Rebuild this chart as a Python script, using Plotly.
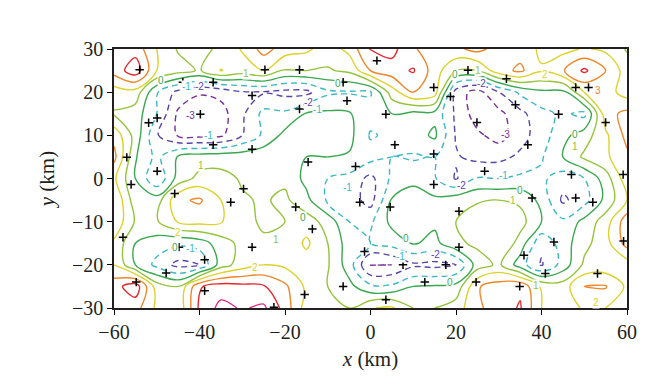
import plotly.graph_objects as go

# grid (km)
x_km = [-60, -55, -50, -45, -40, -35, -30, -25, -20, -15, -10, -5, 0, 5, 10, 15, 20, 25, 30, 35, 40, 45, 50, 55, 60]
y_km = [-30, -25, -20, -15, -10, -5, 0, 5, 10, 15, 20, 25, 30]

# field values, one list per row (x = -60 ... 60)
z_y30 = [3.0, 3.6, 2.0, 0.9, 0.7, 1.2, 2.1, 3.4, 2.5, 2.2, 1.5, 2.3, 4.1, 4.3, 3.2, 2.1, 2.8, 3.3, 2.6, 2.6, 1.8, 1.7, 2.1, 1.8, 0.9]
z_y25 = [3.4, 4.6, 2.0, 1.4, 0.9, 2.05, 1.5, 2.0, 0.9, 1.0, 0.9, 1.2, 3.0, 3.6, 4.1, 2.5, 1.0, 1.0, 2.6, 3.2, 2.1, 2.9, 4.2, 3.0, 1.5]
z_y20 = [1.5, 1.6, -0.9, -2.3, -2.9, -2.7, -2.1, -2.1, -2.3, -2.3, -1.2, -1.1, -1.1, 1.5, 3.0, 2.5, -2.5, -3.4, -2.0, -0.8, -0.2, -0.3, 2.0, 2.5, 1.5]
z_y15 = [0.9, 0.5, -1.0, -3.2, -3.6, -3.4, -2.2, -0.7, -0.8, 0.1, 0.2, 0.1, -0.6, 0.0, -0.3, -0.3, -2.2, -3.5, -3.3, -2.3, -1.3, -0.8, -1.3, 2.6, 3.3]
z_y10 = [2.7, 0.6, -1.9, -3.1, -3.3, -3.2, -2.0, -0.8, 0.3, 0.5, 0.5, 0.3, -1.1, -0.8, -0.5, 0.2, -2.1, -2.8, -3.4, -2.4, -1.5, -0.3, 0.5, 1.8, 3.3]
z_y5 = [3.3, 0.1, -1.3, 0.1, 0.5, 0.6, 0.6, 0.7, 0.4, 0.0, 0.0, -0.1, -0.6, -1.0, -1.1, -1.0, -1.9, -2.3, -2.3, -1.8, -1.1, 0.0, 1.2, 1.8, 2.8]
z_y0 = [2.2, 0.0, -1.9, 0.4, 1.3, 1.3, 0.9, 0.8, 0.8, -0.3, -1.0, -1.3, -2.3, -0.8, -0.5, -0.9, -2.1, -0.9, -1.0, -0.8, -0.8, -1.5, -1.0, 0.5, 2.6]
z_ym5 = [3.0, 0.4, 0.5, 2.8, 3.15, 2.0, 1.1, 0.9, 1.2, 0.3, -1.2, -1.5, -2.4, 0.1, 0.9, 0.2, 0.6, 0.9, 1.0, 0.8, -0.3, -2.2, -1.4, 0.3, 2.0]
z_ym10 = [2.8, 0.9, 0.9, 2.1, 2.3, 2.1, 1.2, 0.9, 1.0, 1.5, 0.6, -1.0, -1.2, 0.3, 0.7, 0.2, 1.0, 1.5, 1.9, 1.4, 0.0, -0.8, 0.3, 1.5, 3.6]
z_ym15 = [1.8, 0.0, -0.5, -0.8, -0.5, 0.5, 1.3, 1.1, 1.2, 2.2, 1.0, -0.5, -1.0, -0.6, 0.1, -0.3, 0.8, 1.2, 2.0, 0.6, -1.8, -0.5, 0.7, 1.6, 3.4]
z_ym20 = [2.0, 0.0, -1.3, -2.3, -2.0, 0.5, 1.5, 2.0, 1.8, 1.5, 1.1, -0.5, -3.1, -3.0, -2.2, -2.3, -2.0, 0.5, 1.2, -0.5, -2.1, -0.6, 1.2, 1.3, 1.5]
z_ym25 = [3.6, 4.6, 1.5, 1.0, 3.9, 4.5, 4.3, 4.1, 3.2, 1.8, 1.0, 0.3, -0.8, -0.8, 0.0, 0.1, 0.3, 2.9, 3.5, 3.8, 1.8, 1.5, 3.0, 3.1, 1.8]
z_ym30 = [3.3, 3.4, 1.8, 1.2, 4.2, 5.3, 4.9, 5.2, 3.6, 1.5, 1.2, 1.0, 1.95, 2.15, 1.0, 1.0, 1.5, 2.8, 3.5, 4.1, 2.0, 1.6, 2.1, 2.0, 1.0]

z_rows = [z_ym30, z_ym25, z_ym20, z_ym15, z_ym10, z_ym5, z_y0,
          z_y5, z_y10, z_y15, z_y20, z_y25, z_y30]

# station positions (km)
station_x = [-54.0, -43.9, -36.8, -27.7, -39.8, -49.9, -51.9, -36.8, -27.7, -57.0, -49.9, -24.7,
             -16.6, -6.4, -5.5, -16.6, 1.5, 14.8, 3.6, 5.7, 14.8, -14.6, -3.5,
             22.8, 31.8, 48.0, 51.0, 18.7, 33.9, 44.0, 24.9, 55.0, 36.8, 47.0, 59.1, 26.7,
             -56.0, -45.8, -32.7, -29.7, -57.9, -44.8, -38.8, -47.8, -54.8, -38.8, -27.7, -22.6,
             -17.5, -13.6, -2.5, 4.6, 14.8, -1.4, 7.6, 17.6, 12.7, -6.4, 3.6, -15.4,
             37.8, 48.0, 52.0, 20.7, 20.7, 42.9, 35.9, 40.9, 24.7, 34.9, 53.1, 59.2]
station_y = [25.2, 22.3, 22.3, 19.2, 14.9, 14.0, 12.9, 7.8, 6.8, 4.9, 1.7, 25.2,
             25.2, 22.3, 18.0, 16.1, 27.3, 21.1, 14.9, 7.8, 5.7, 3.8, 2.8,
             25.1, 23.1, 21.1, 21.1, 19.0, 17.1, 14.9, 13.0, 13.0, 7.8, 0.9, 0.9, 1.7,
             -1.4, -3.5, -5.5, -2.4, -13.6, -15.9, -18.8, -21.9, -24.0, -26.0, -15.9, -29.8,
             -6.6, -11.7, -5.5, -6.6, -1.4, -16.9, -20.0, -20.0, -24.0, -25.0, -28.1, -26.9,
             -4.5, -4.5, -5.5, -7.6, -15.9, -14.7, -17.8, -22.0, -24.0, -25.0, -22.0, -14.5]

# contour labels
label_x = [-48.9, -43.0, -39.9, -42.2, -29.1, -14.6, -12.3, -7.6, -38.0, -39.6, -45.0, -45.7, -42.0,
           -22.1, -27.0, -15.8, 8.3, 7.1, 15.1, 18.6, 38.7, 52.8, 35.0, 33.3, 31.0, 21.2,
           47.8, 47.8, 53.2, 40.8, 25.9, 25.2, 19.8, 31.5, -5.3]
label_y = [22.8, 21.2, 21.2, 14.5, 24.4, 17.5, 15.9, 22.1, 10.0, 3.1, -12.6, -15.9, -16.1,
           -14.2, -20.7, -9.1, -13.8, -18.0, -17.7, -24.2, -24.7, -28.8, -2.7, -5.2, 0.6, -1.7,
           10.1, 7.5, 20.3, 24.0, 22.1, 25.1, 24.0, 10.1, -2.1]
label_level = [0, -1, -2, -3, 1, -2, -1, 0, -1, 1, 2, 0, -1,
               1, 2, 0, 0, -1, -2, 0, 1, 2, 0, 1, -1, -2,
               0, 1, 3, 2, -2, 1, 0, -3, -1]

neg_levels = [-3, -2, -1]
neg_colors = ["#7a2f97", "#5a43a8", "#3bb8c2"]
pos_levels = [0, 1, 2, 3, 4, 5]
pos_colors = ["#3aa850", "#94c43c", "#dcd22a", "#f0862a", "#e6282e", "#e5288a"]


def scale_for(levels, colors):
    lo, hi = levels[0], levels[-1]
    return [[(lv - lo) / (hi - lo), c] for lv, c in zip(levels, colors)]


fig = go.Figure()
fig.add_trace(go.Contour(x=x_km, y=y_km, z=z_rows,
                         colorscale=scale_for(neg_levels, neg_colors),
                         zmin=neg_levels[0], zmax=neg_levels[-1], zauto=False,
                         showscale=False, autocontour=False, hoverinfo="skip",
                         contours=dict(start=neg_levels[0], end=neg_levels[-1], size=1,
                                       coloring="lines", showlabels=False),
                         line=dict(width=1.4, dash="6px,4px", smoothing=1.0)))
fig.add_trace(go.Contour(x=x_km, y=y_km, z=z_rows,
                         colorscale=scale_for(pos_levels, pos_colors),
                         zmin=pos_levels[0], zmax=pos_levels[-1], zauto=False,
                         showscale=False, autocontour=False, hoverinfo="skip",
                         contours=dict(start=pos_levels[0], end=pos_levels[-1], size=1,
                                       coloring="lines", showlabels=False),
                         line=dict(width=1.4, smoothing=1.0)))

fig.add_trace(go.Scatter(x=station_x, y=station_y, mode="markers",
                         marker=dict(symbol="cross-thin", size=6, line=dict(width=1.5, color="black")),
                         hoverinfo="skip", showlegend=False))

color_of = dict(zip(neg_levels + pos_levels, neg_colors + pos_colors))
for lx, ly, lv in zip(label_x, label_y, label_level):
    fig.add_annotation(x=lx, y=ly, text=str(lv), showarrow=False,
                       font=dict(family="Liberation Sans, Arial", size=10, color=color_of[lv]),
                       bgcolor="white", borderpad=0)

serif = "Liberation Serif, Times New Roman, serif"
axis_font = dict(family=serif, size=20, color="#231f20")
fig.update_xaxes(range=[-60, 60], tickvals=[-60, -40, -20, 0, 20, 40, 60],
                 ticks="outside", ticklen=5, tickwidth=1, tickcolor="black",
                 showline=True, linecolor="#231f20", linewidth=1.6, mirror=True,
                 showgrid=False, zeroline=False, tickfont=axis_font,
                 title=dict(text="<i>x</i> (km)", font=dict(family=serif, size=21, color="#231f20"),
                            standoff=10))
fig.update_yaxes(range=[-30, 30], tickvals=[-30, -20, -10, 0, 10, 20, 30],
                 ticks="outside", ticklen=5, tickwidth=1, tickcolor="black",
                 showline=True, linecolor="#231f20", linewidth=1.6, mirror=True,
                 showgrid=False, zeroline=False, tickfont=axis_font,
                 title=dict(text="<i>y</i> (km)", font=dict(family=serif, size=21, color="#231f20"),
                            standoff=12))
fig.update_layout(width=660, height=391, margin=dict(l=106, r=41, t=41, b=91),
                  plot_bgcolor="white", paper_bgcolor="white", showlegend=False)

fig.write_html("out.html")
